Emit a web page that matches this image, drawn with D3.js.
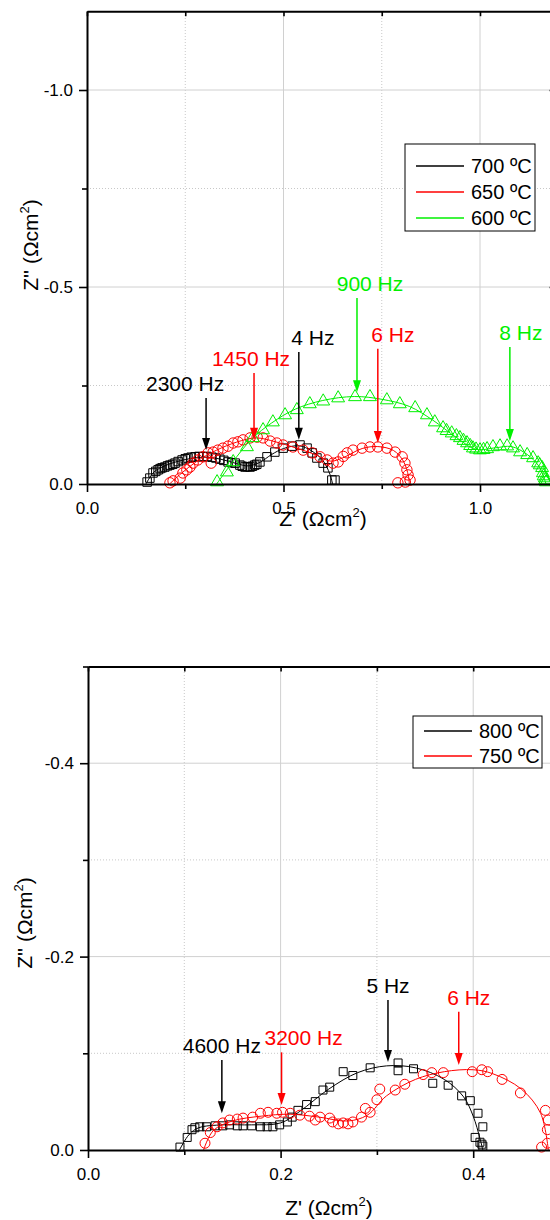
<!DOCTYPE html>
<html><head><meta charset="utf-8">
<script src="https://cdn.jsdelivr.net/npm/d3@7"></script>
<style>body{margin:0;background:#fff}svg{display:block}text{font-family:"Liberation Sans",Arial,sans-serif}</style>
</head><body><svg id="c" width="550" height="1220"></svg>
<script>
// ---------- DATA (Z' , -Z'') ----------
const legendTop = ["700 ºC", "650 ºC", "600 ºC"];
const legendBottom = ["800 ºC", "750 ºC"];
const xTicksTop = [0, 0.5, 1.0], xMinorTop = [0.25, 0.75];
const yTicksTop = [0, 0.5, 1.0], yMinorTop = [0.25, 0.75];
const xTicksBot = [0, 0.2, 0.4], xMinorBot = [0.1, 0.3, 0.5];
const yTicksBot = [0, 0.2, 0.4], yMinorBot = [0.1, 0.3, 0.5];

const pts700 = [[0.153,0.005],[0.16,0.015],[0.168,0.028],[0.175,0.032],[0.181,0.036],[0.186,0.039],[0.191,0.041],[0.198,0.043],[0.205,0.046],[0.211,0.048],[0.218,0.05],[0.224,0.053],[0.232,0.057],[0.242,0.061],[0.25,0.064],[0.257,0.066],[0.265,0.068],[0.275,0.069],[0.285,0.07],[0.295,0.069],[0.305,0.07],[0.318,0.068],[0.328,0.066],[0.338,0.063],[0.348,0.06],[0.359,0.056],[0.368,0.054],[0.377,0.053],[0.389,0.048],[0.395,0.045],[0.402,0.043],[0.408,0.044],[0.415,0.043],[0.421,0.045],[0.427,0.048],[0.432,0.05],[0.44,0.056],[0.458,0.069],[0.478,0.081],[0.499,0.091],[0.522,0.096],[0.542,0.099],[0.56,0.091],[0.573,0.079],[0.585,0.066],[0.601,0.053],[0.613,0.041],[0.623,0.01],[0.631,0.01]];
const fit700 = [[0.15,0],[0.17,0.03],[0.2,0.047],[0.25,0.062],[0.3,0.068],[0.34,0.063],[0.38,0.052],[0.41,0.046],[0.44,0.055],[0.47,0.075],[0.5,0.09],[0.54,0.097],[0.57,0.085],[0.6,0.06],[0.618,0.025],[0.625,0]];

const pts650 = [[0.211,0.003],[0.219,0.008],[0.237,0.015],[0.244,0.028],[0.254,0.036],[0.262,0.043],[0.27,0.053],[0.282,0.061],[0.295,0.069],[0.308,0.079],[0.316,0.053],[0.321,0.081],[0.333,0.086],[0.346,0.091],[0.359,0.096],[0.372,0.104],[0.384,0.107],[0.397,0.112],[0.415,0.117],[0.433,0.119],[0.448,0.117],[0.466,0.109],[0.483,0.104],[0.499,0.099],[0.524,0.094],[0.55,0.086],[0.573,0.079],[0.593,0.069],[0.611,0.061],[0.626,0.053],[0.639,0.056],[0.652,0.07],[0.662,0.079],[0.677,0.086],[0.7,0.091],[0.72,0.094],[0.74,0.094],[0.763,0.091],[0.784,0.081],[0.802,0.069],[0.809,0.053],[0.814,0.036],[0.817,0.023],[0.822,0.01],[0.791,0.003],[0.81,0.005]];
const fit650 = [[0.21,0],[0.24,0.027],[0.28,0.058],[0.33,0.086],[0.38,0.106],[0.43,0.117],[0.48,0.107],[0.53,0.092],[0.58,0.075],[0.62,0.058],[0.65,0.066],[0.7,0.09],[0.74,0.095],[0.78,0.085],[0.805,0.058],[0.818,0.02],[0.82,0]];

const pts600 = [[0.331,0.005],[0.356,0.03],[0.372,0.056],[0.407,0.094],[0.422,0.117],[0.448,0.137],[0.473,0.157],[0.504,0.175],[0.534,0.188],[0.567,0.203],[0.601,0.21],[0.639,0.218],[0.682,0.221],[0.72,0.221],[0.763,0.213],[0.796,0.203],[0.835,0.193],[0.865,0.175],[0.885,0.157],[0.906,0.142],[0.915,0.135],[0.928,0.129],[0.94,0.122],[0.949,0.117],[0.958,0.11],[0.967,0.104],[0.975,0.097],[0.982,0.091],[0.99,0.088],[1.0,0.086],[1.009,0.087],[1.018,0.089],[1.033,0.094],[1.051,0.096],[1.069,0.096],[1.084,0.091],[1.102,0.081],[1.12,0.074],[1.135,0.066],[1.148,0.053],[1.152,0.048],[1.158,0.041],[1.16,0.028],[1.162,0.02],[1.165,0.015],[1.166,0.01],[1.168,0.005]];
const fit600 = [[0.33,0],[0.37,0.055],[0.42,0.115],[0.47,0.155],[0.53,0.19],[0.6,0.212],[0.68,0.222],[0.75,0.215],[0.82,0.197],[0.88,0.162],[0.94,0.118],[0.99,0.088],[1.04,0.092],[1.08,0.095],[1.12,0.075],[1.15,0.045],[1.168,0]];

const pts800 = [[0.0955,0.003],[0.103,0.013],[0.108,0.021],[0.111,0.023],[0.116,0.024],[0.123,0.024],[0.132,0.025],[0.14,0.025],[0.147,0.026],[0.155,0.025],[0.161,0.025],[0.17,0.025],[0.179,0.024],[0.186,0.024],[0.192,0.024],[0.199,0.026],[0.207,0.029],[0.212,0.034],[0.218,0.041],[0.227,0.047],[0.236,0.05],[0.244,0.062],[0.251,0.065],[0.265,0.081],[0.275,0.077],[0.293,0.085],[0.322,0.09],[0.322,0.082],[0.338,0.084],[0.358,0.069],[0.374,0.067],[0.388,0.056],[0.397,0.051],[0.405,0.038],[0.41,0.024],[0.402,0.013],[0.407,0.008],[0.409,0.006],[0.41,0.004]];
const fit800 = [[0.095,0],[0.105,0.016],[0.115,0.023],[0.14,0.026],[0.17,0.026],[0.2,0.028],[0.22,0.04],[0.25,0.063],[0.28,0.08],[0.31,0.087],[0.34,0.085],[0.37,0.073],[0.39,0.055],[0.4,0.035],[0.407,0.012],[0.41,0]];

const pts750 = [[0.1215,0.007],[0.127,0.018],[0.134,0.024],[0.14,0.028],[0.147,0.031],[0.155,0.032],[0.161,0.033],[0.171,0.034],[0.179,0.038],[0.187,0.039],[0.196,0.038],[0.202,0.039],[0.21,0.038],[0.22,0.036],[0.23,0.035],[0.236,0.031],[0.241,0.034],[0.251,0.033],[0.254,0.029],[0.26,0.027],[0.265,0.028],[0.27,0.027],[0.275,0.029],[0.284,0.034],[0.288,0.043],[0.293,0.039],[0.3,0.052],[0.303,0.063],[0.319,0.062],[0.329,0.068],[0.348,0.078],[0.357,0.08],[0.369,0.08],[0.399,0.081],[0.409,0.083],[0.415,0.081],[0.43,0.073],[0.449,0.059],[0.475,0.041],[0.478,0.031],[0.477,0.021],[0.477,0.007],[0.471,0.003]];
const fit750 = [[0.12,0],[0.13,0.02],[0.15,0.03],[0.18,0.035],[0.21,0.037],[0.24,0.034],[0.27,0.03],[0.29,0.036],[0.31,0.056],[0.34,0.073],[0.37,0.081],[0.4,0.083],[0.42,0.079],[0.45,0.063],[0.47,0.038],[0.478,0]];

// annotations: label, Z' of arrow, -Z'' of arrow tip, -Z'' of arrow tail
const annLabelsTop = ["2300 Hz","1450 Hz","4 Hz","900 Hz","6 Hz","8 Hz"];
const annXTop = [0.303,0.425,0.539,0.687,0.74,1.076];
const annTipTop = [0.086,0.112,0.112,0.233,0.104,0.109];
const annTailTop = [0.218,0.282,0.335,0.472,0.343,0.348];
const annLabelsBot = ["4600 Hz","3200 Hz","5 Hz","6 Hz"];
const annXBot = [0.139,0.201,0.3115,0.385];
const annTipBot = [0.038,0.0465,0.091,0.088];
const annTailBot = [0.093,0.101,0.155,0.143];

// ---------- DRAW ----------
const svg = d3.select("#c");
svg.append("rect").attr("width",550).attr("height",1220).attr("fill","#fff");
const COL = {black:"#000", red:"#ff0000", green:"#00f000"};
const lineGen = (x,y) => d3.line().x(d=>x(d[0])).y(d=>y(d[1])).curve(d3.curveCatmullRom.alpha(0.5));
const negFmt = v => v === 0 ? "0.0" : "-" + v.toFixed(1);

function drawPanel(p) {
  const x = d3.scaleLinear().domain(p.xDom).range(p.xRange);
  const y = d3.scaleLinear().domain(p.yDom).range(p.yRange);
  const g = svg.append("g");
  const [x0,x1] = p.xRange, [y0,y1] = p.yRange;
  // grid
  g.selectAll(".gxm").data(p.xMinor).join("line").attr("x1",d=>x(d)).attr("x2",d=>x(d)).attr("y1",y0).attr("y2",y1)
    .attr("stroke","#c8c8c8").attr("stroke-dasharray","1,2");
  g.selectAll(".gym").data(p.yMinor).join("line").attr("y1",d=>y(d)).attr("y2",d=>y(d)).attr("x1",x0).attr("x2",x1)
    .attr("stroke","#c8c8c8").attr("stroke-dasharray","1,2");
  g.selectAll(".gx").data(p.xMajor.filter(d=>d>0)).join("line").attr("x1",d=>x(d)).attr("x2",d=>x(d)).attr("y1",y0).attr("y2",y1)
    .attr("stroke","#d0d0d0");
  g.selectAll(".gy").data(p.yMajor.filter(d=>d>0)).join("line").attr("y1",d=>y(d)).attr("y2",d=>y(d)).attr("x1",x0).attr("x2",x1)
    .attr("stroke","#d0d0d0");

  // series
  p.series.forEach(s => {
    g.append("path").datum(s.fit).attr("d", lineGen(x,y)).attr("fill","none").attr("stroke",s.color).attr("stroke-width",1);
    g.selectAll(null).data(s.pts).join("path")
      .attr("d", d3.symbol().type(s.sym).size(s.size))
      .attr("transform", d => `translate(${x(d[0])},${y(d[1])})`)
      .attr("fill","none").attr("stroke",s.color).attr("stroke-width",1);
  });

  // axes
  const styleAxis = (sel, fs) => {
    sel.selectAll("path.domain").attr("stroke","#000").attr("stroke-width",2);
    sel.selectAll(".tick line").attr("stroke","#000").attr("stroke-width",1.6);
    sel.selectAll(".tick text").attr("fill","#000").style("font-size", fs+"px").style("font-family","'Liberation Sans',Arial,sans-serif");
  };
  const bx = g.append("g").attr("transform",`translate(0,${y0})`)
    .call(d3.axisBottom(x).tickValues(p.xMajor).tickSizeInner(8).tickSizeOuter(0).tickPadding(10).tickFormat(d3.format(".1f")));
  styleAxis(bx,17);
  const bxm = g.append("g").attr("transform",`translate(0,${y0})`)
    .call(d3.axisBottom(x).tickValues(p.xMinor).tickSize(5).tickFormat(""));
  styleAxis(bxm,17); bxm.select(".domain").remove();
  const ly = g.append("g").attr("transform",`translate(${x0},0)`)
    .call(d3.axisLeft(y).tickValues(p.yMajor).tickSizeInner(8).tickSizeOuter(0).tickPadding(6).tickFormat(negFmt));
  styleAxis(ly,17);
  const lym = g.append("g").attr("transform",`translate(${x0},0)`)
    .call(d3.axisLeft(y).tickValues(p.yMinor).tickSize(5).tickFormat(""));
  styleAxis(lym,17); lym.select(".domain").remove();
  const tx = g.append("g").attr("transform",`translate(0,${y1})`)
    .call(d3.axisTop(x).tickValues(p.xMajor.concat(p.xMinor)).tickSizeInner(-5).tickSizeOuter(0).tickFormat(""));
  styleAxis(tx,17);
  const ry = g.append("g").attr("transform",`translate(${x1},0)`)
    .call(d3.axisRight(y).tickValues(p.yMajor).tickSizeInner(-9).tickSizeOuter(0).tickFormat(""));
  styleAxis(ry,17);

  // titles
  const xt = g.append("text").attr("x",p.xTitle[0]).attr("y",p.xTitle[1]).attr("text-anchor","middle").style("font-size","21px");
  xt.append("tspan").text("Z' (Ωcm");
  xt.append("tspan").text("2").attr("dy",-9).style("font-size","13px");
  xt.append("tspan").text(")").attr("dy",9).style("font-size","21px");
  const yt = g.append("text").attr("transform",`translate(${p.yTitle[0]},${p.yTitle[1]}) rotate(-90)`).attr("text-anchor","middle").style("font-size","21px");
  yt.append("tspan").text("Z'' (Ωcm");
  yt.append("tspan").text("2").attr("dy",-9).style("font-size","13px");
  yt.append("tspan").text(")").attr("dy",9).style("font-size","21px");

  // annotations
  p.ann.labels.forEach((lab,i) => {
    const ax = x(p.ann.x[i]), tip = y(p.ann.tip[i]), tail = y(p.ann.tail[i]);
    const c = p.ann.colors[i];
    g.append("line").attr("x1",ax).attr("x2",ax).attr("y1",tail).attr("y2",tip-10).attr("stroke",c).attr("stroke-width",1.5);
    g.append("path").attr("d",`M${ax},${tip} L${ax-4},${tip-12} L${ax+4},${tip-12} Z`).attr("fill",c);
    g.append("text").attr("x",ax+p.ann.dx[i]).attr("y",tail-7).attr("text-anchor","middle")
      .attr("fill",c).style("font-size","21px").text(lab);
  });

  // legend
  const L = p.legend;
  g.append("rect").attr("x",L.x).attr("y",L.y).attr("width",L.w).attr("height",L.h).attr("fill","#fff").attr("stroke","#000").attr("stroke-width",1);
  L.labels.forEach((lab,i) => {
    const yy = L.y + L.first + i*L.step;
    g.append("line").attr("x1",L.x+11).attr("x2",L.x+59).attr("y1",yy).attr("y2",yy).attr("stroke",L.colors[i]).attr("stroke-width",1.6);
    g.append("text").attr("x",L.x+66).attr("y",yy).attr("dy","0.36em").style("font-size","20px").attr("fill","#000").text(lab);
  });
}

drawPanel({
  xDom:[0,1.2], xRange:[87,558.6], yDom:[0,1.2], yRange:[484,11.2],
  xMajor:xTicksTop, xMinor:xMinorTop, yMajor:yTicksTop, yMinor:yMinorTop,
  series:[
    {pts:pts700, fit:fit700, color:COL.black, sym:d3.symbolSquare, size:72},
    {pts:pts650, fit:fit650, color:COL.red, sym:d3.symbolCircle, size:85},
    {pts:pts600, fit:fit600, color:COL.green, sym:d3.symbolTriangle, size:72}
  ],
  xTitle:[323,526], yTitle:[38,245],
  ann:{labels:annLabelsTop, x:annXTop, tip:annTipTop, tail:annTailTop,
       colors:[COL.black,COL.red,COL.black,COL.green,COL.red,COL.green], dx:[-21,-3,14,13,15,11]},
  legend:{x:405, y:144, w:130, h:87, first:22, step:26, labels:legendTop, colors:[COL.black,COL.red,COL.green]}
});

drawPanel({
  xDom:[0,0.5], xRange:[88,569.5], yDom:[0,0.5], yRange:[1150,666.5],
  xMajor:xTicksBot, xMinor:xMinorBot, yMajor:yTicksBot, yMinor:yMinorBot,
  series:[
    {pts:pts800, fit:fit800, color:COL.black, sym:d3.symbolSquare, size:64},
    {pts:pts750, fit:fit750, color:COL.red, sym:d3.symbolCircle, size:78}
  ],
  xTitle:[329,1215], yTitle:[32,923],
  ann:{labels:annLabelsBot, x:annXBot, tip:annTipBot, tail:annTailBot,
       colors:[COL.black,COL.red,COL.black,COL.red], dx:[0,22,0,10]},
  legend:{x:413, y:716, w:129, h:52, first:15, step:25, labels:legendBottom, colors:[COL.black,COL.red]}
});
</script></body></html>
